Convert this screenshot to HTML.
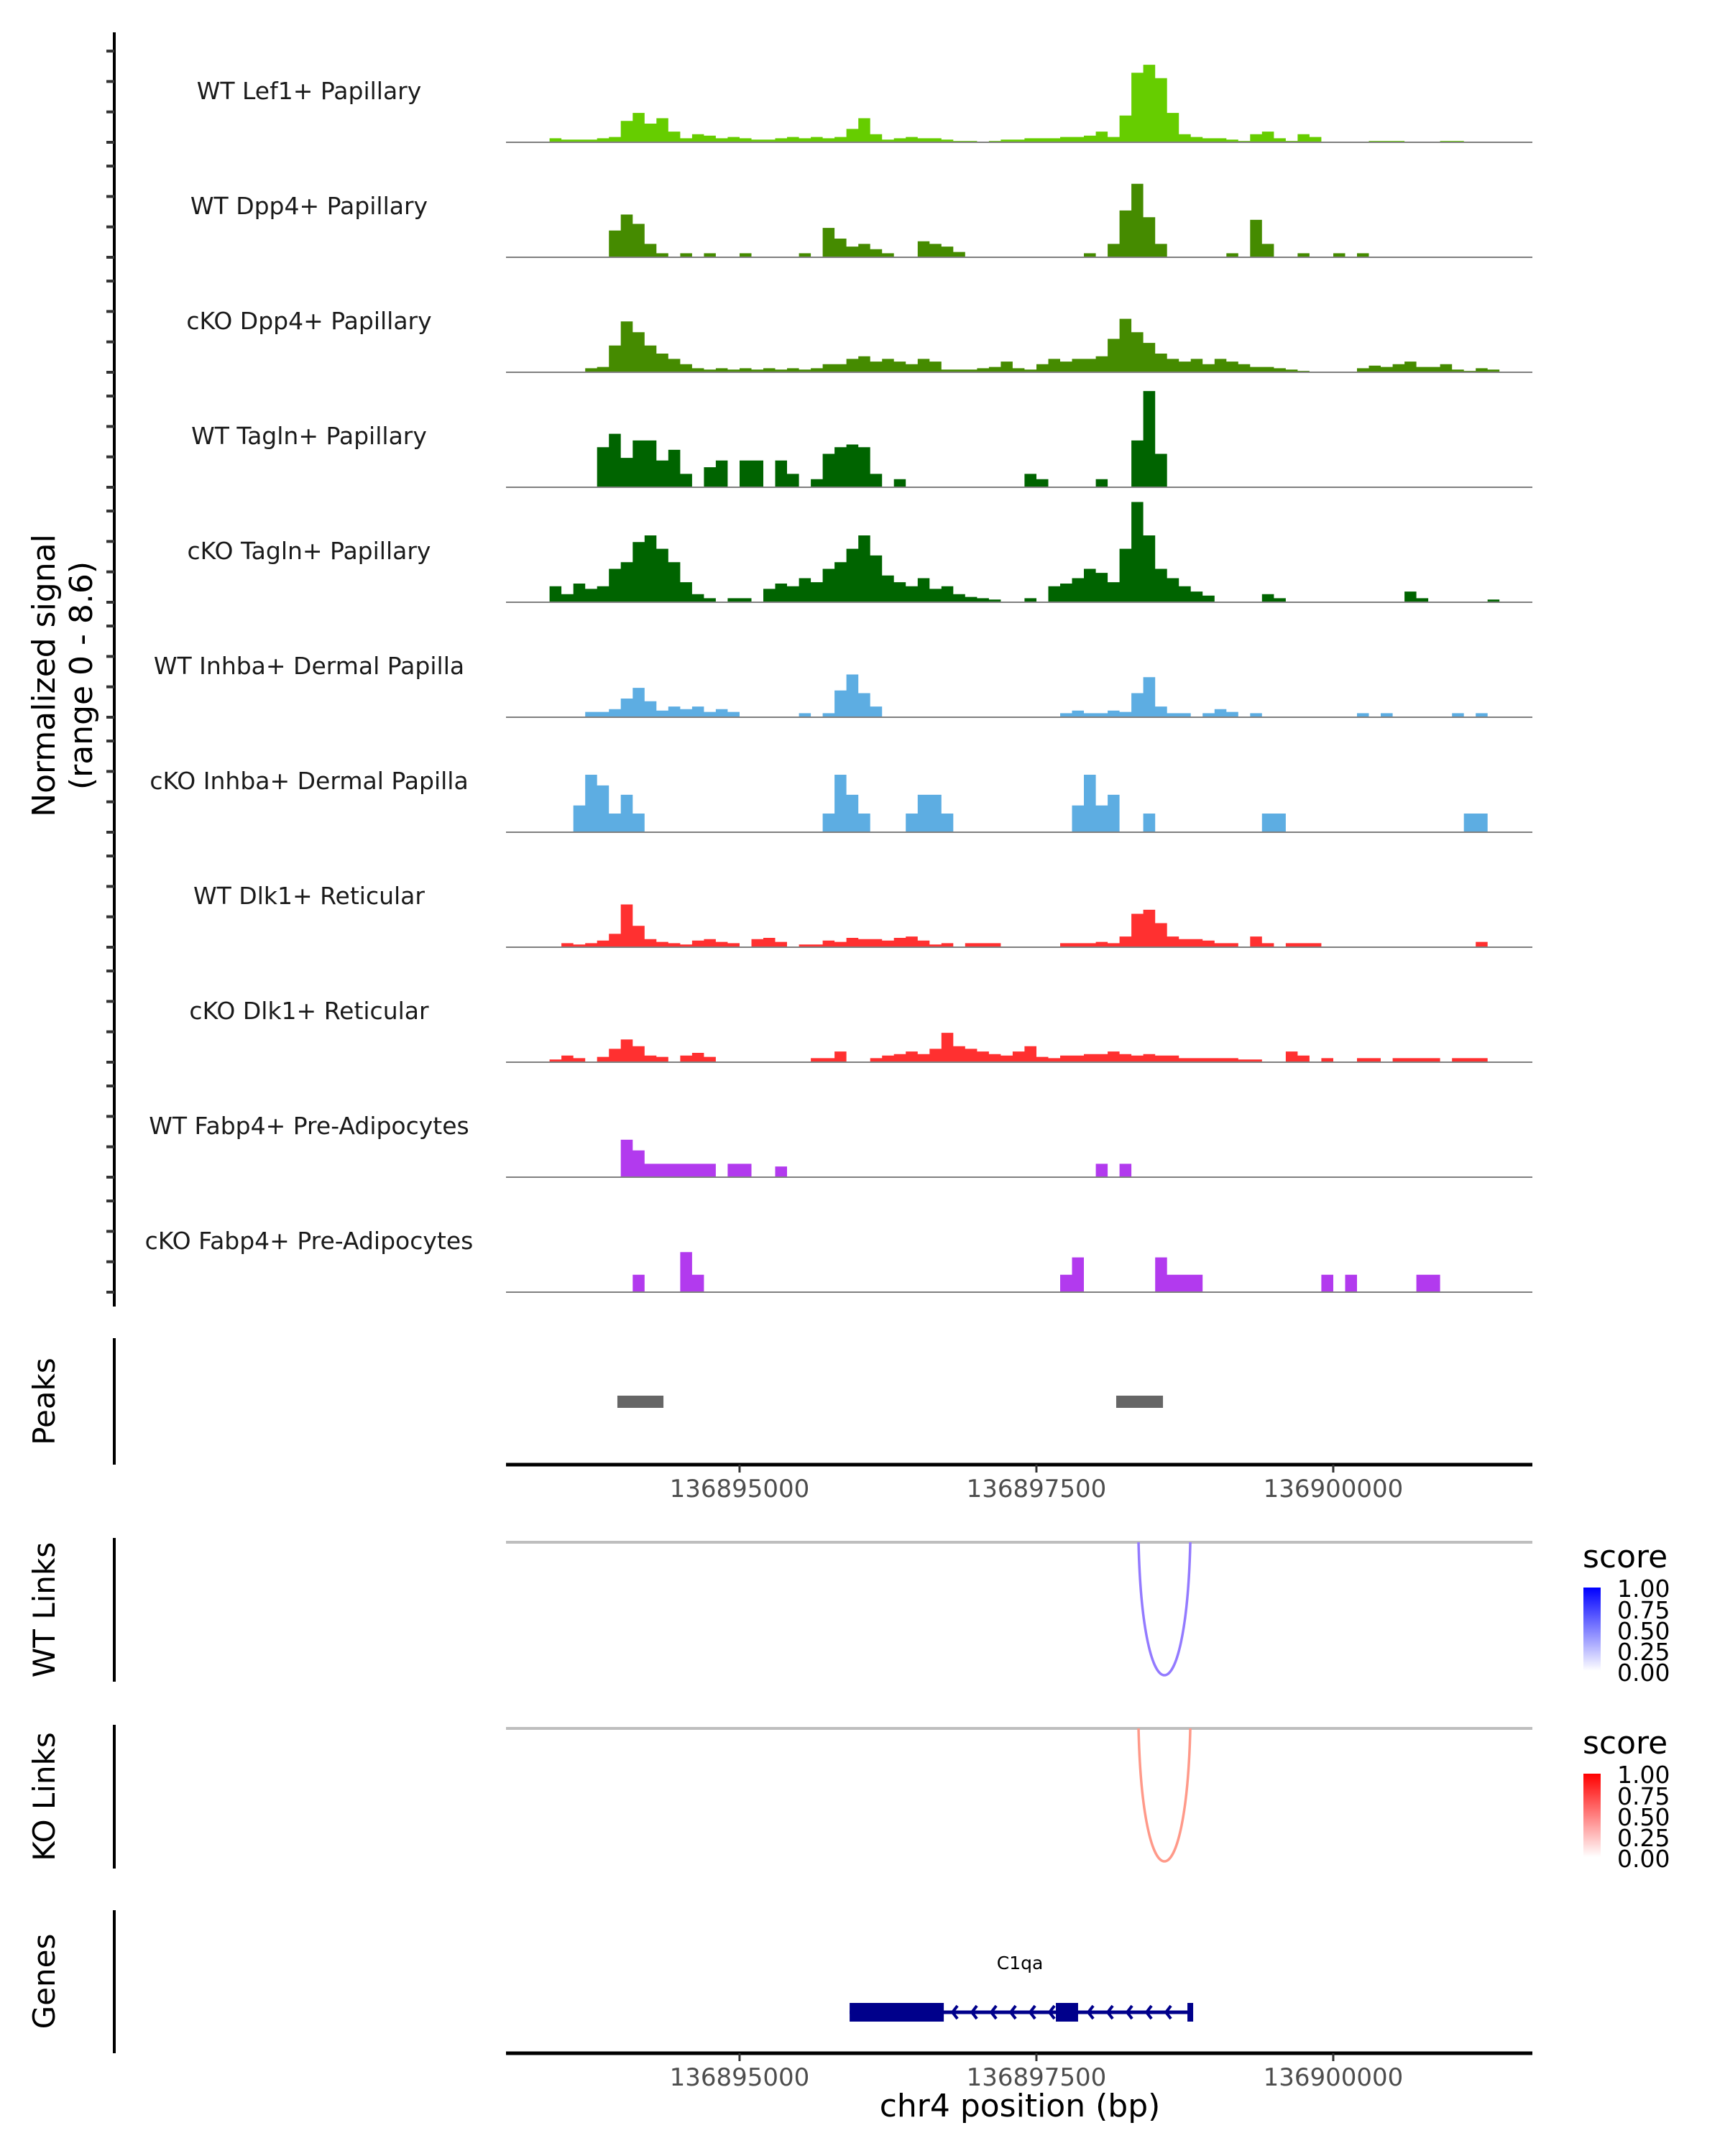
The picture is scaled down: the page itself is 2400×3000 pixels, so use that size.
<!DOCTYPE html>
<html><head><meta charset="utf-8"><style>
html,body{margin:0;padding:0;background:#fff}
svg{display:block}
text{font-family:"DejaVu Sans","Liberation Sans",sans-serif}
</style></head><body>
<svg id="chart" xmlns="http://www.w3.org/2000/svg" width="2400" height="3000" viewBox="0 0 2400 3000">
<defs>
<linearGradient id="gBlue" x1="0" y1="1" x2="0" y2="0"><stop offset="0" stop-color="#ffffff"/><stop offset="1" stop-color="#0000ff"/></linearGradient>
<linearGradient id="gRed" x1="0" y1="1" x2="0" y2="0"><stop offset="0" stop-color="#ffffff"/><stop offset="1" stop-color="#ff0000"/></linearGradient>
</defs>
<g id="tracks"></g>
<line x1="159" y1="45" x2="159" y2="1818" stroke="#000" stroke-width="4"/>
<g id="yticks"></g>
<text transform="translate(76,940) rotate(-90)" text-anchor="middle" font-size="44" fill="#000">Normalized signal</text>
<text transform="translate(128,940) rotate(-90)" text-anchor="middle" font-size="44" fill="#000">(range 0 - 8.6)</text>

<line x1="159" y1="1862" x2="159" y2="2038" stroke="#000" stroke-width="4"/>
<text transform="translate(76,1950) rotate(-90)" text-anchor="middle" font-size="42" fill="#000">Peaks</text>
<g id="peaks"></g>
<g id="xaxis1"></g>

<line x1="159" y1="2140" x2="159" y2="2340" stroke="#000" stroke-width="4"/>
<text transform="translate(76,2240) rotate(-90)" text-anchor="middle" font-size="42" fill="#000">WT Links</text>
<line x1="704" y1="2146" x2="2132" y2="2146" stroke="#bebebe" stroke-width="4"/>
<g id="wtlinks"></g>

<line x1="159" y1="2400" x2="159" y2="2600" stroke="#000" stroke-width="4"/>
<text transform="translate(76,2500) rotate(-90)" text-anchor="middle" font-size="42" fill="#000">KO Links</text>
<line x1="704" y1="2405" x2="2132" y2="2405" stroke="#bebebe" stroke-width="4"/>
<g id="kolinks"></g>

<g>
<text x="2202" y="2181" font-size="44" fill="#000">score</text>
<rect x="2203" y="2209" width="24" height="116" fill="url(#gBlue)"/>
<text x="2250" y="2222" font-size="33">1.00</text><text x="2250" y="2252" font-size="33">0.75</text><text x="2250" y="2281" font-size="33">0.50</text><text x="2250" y="2310" font-size="33">0.25</text><text x="2250" y="2339" font-size="33">0.00</text>
</g>
<g>
<text x="2202" y="2440" font-size="44" fill="#000">score</text>
<rect x="2203" y="2468" width="24" height="116" fill="url(#gRed)"/>
<text x="2250" y="2481" font-size="33">1.00</text><text x="2250" y="2511" font-size="33">0.75</text><text x="2250" y="2540" font-size="33">0.50</text><text x="2250" y="2569" font-size="33">0.25</text><text x="2250" y="2598" font-size="33">0.00</text>
</g>

<line x1="159" y1="2658" x2="159" y2="2857" stroke="#000" stroke-width="4"/>
<text transform="translate(76,2757) rotate(-90)" text-anchor="middle" font-size="42" fill="#000">Genes</text>
<g id="genes"></g>
<g id="xaxis2"></g>
<text x="1419" y="2945" text-anchor="middle" font-size="44" fill="#000">chr4 position (bp)</text>
</svg>
<script>
const NS='http://www.w3.org/2000/svg';
const trackLabels=['WT Lef1+ Papillary','WT Dpp4+ Papillary','cKO Dpp4+ Papillary','WT Tagln+ Papillary','cKO Tagln+ Papillary','WT Inhba+ Dermal Papilla','cKO Inhba+ Dermal Papilla','WT Dlk1+ Reticular','cKO Dlk1+ Reticular','WT Fabp4+ Pre-Adipocytes','cKO Fabp4+ Pre-Adipocytes'];
const trackColors=['#66cd00','#458b00','#458b00','#006400','#006400','#5dade2','#5dade2','#ff3030','#ff3030','#b23aee','#b23aee'];
const binStart=136893400;
const binSize=100;
const sigLef1=[.3,.2,.2,.2,.3,.4,1.6,2.2,1.4,1.8, .8,.3,.6,.5,.3,.4,.3,.2,.2,.3, .4,.3,.4,.3,.4,1.0,1.8,.6,.2,.3, .4,.3,.3,.2,.1,.1,0,.1,.2,.2, .3,.3,.3,.4,.4,.5,.8,.4,2.0,5.2, 5.8,4.8,2.2,.6,.4,.3,.3,.2,.1,.6, .8,.3,.1,.6,.4,0,0,0,0,.1, .1,.1,0,0,0,.1,.1,0,0,0];
const sigDpp4WT=[0,0,0,0,0,2.0,3.2,2.5,1.0,.3, 0,.3,0,.3,0,0,.3,0,0,0, 0,.3,0,2.2,1.4,.8,1.0,.6,.3,0, 0,1.2,1.0,.8,.4,0,0,0,0,0, 0,0,0,0,0,.3,0,1.0,3.5,5.5, 3.0,1.0,0,0,0,0,0,.3,0,2.8, 1.0,0,0,.3,0,0,.3,0,.3,0, 0,0,0,0,0,0,0,0,0,0];
const sigDpp4KO=[0,0,0,.3,.4,2.0,3.8,3.0,2.0,1.4, 1.0,.6,.3,.2,.3,.2,.3,.2,.3,.2, .3,.2,.3,.6,.6,1.0,1.2,.8,1.0,.8, .6,1.0,.8,.2,.2,.2,.3,.4,.8,.3, .2,.6,1.0,.8,1.0,1.0,1.2,2.5,4.0,3.0, 2.2,1.4,1.0,.8,1.0,.6,1.0,.8,.6,.4, .4,.3,.2,.1,0,0,0,0,.3,.5, .4,.6,.8,.4,.4,.6,.2,.1,.3,.2];
const sigTaglnWT=[0,0,0,0,3.0,4.0,2.2,3.5,3.5,2.0, 2.8,1.0,0,1.5,2.0,0,2.0,2.0,0,2.0, 1.0,0,.6,2.5,3.0,3.2,3.0,1.0,0,.6, 0,0,0,0,0,0,0,0,0,0, 1.0,.6,0,0,0,0,.6,0,0,3.5, 7.2,2.5,0,0,0,0,0,0,0,0, 0,0,0,0,0,0,0,0,0,0, 0,0,0,0,0,0,0,0,0,0];
const sigTaglnKO=[1.2,.6,1.4,1.0,1.2,2.5,3.0,4.5,5.0,4.0, 3.0,1.5,.6,.3,0,.3,.3,0,1.0,1.4, 1.2,1.8,1.5,2.5,3.0,4.0,5.0,3.5,2.0,1.5, 1.2,1.8,1.0,1.2,.6,.4,.3,.2,0,0, .3,0,1.2,1.4,1.8,2.5,2.2,1.5,4.0,7.5, 5.0,2.5,1.8,1.2,.8,.5,0,0,0,0, .6,.3,0,0,0,0,0,0,0,0, 0,0,.8,.3,0,0,0,0,0,.2];
const sigInhbaWT=[0,0,0,.4,.4,.6,1.4,2.2,1.2,.5, .8,.6,.8,.4,.6,.4,0,0,0,0, 0,.3,0,.3,2.0,3.2,1.8,.8,0,0, 0,0,0,0,0,0,0,0,0,0, 0,0,0,.3,.5,.3,.3,.5,.4,1.8, 3.0,.8,.3,.3,0,.3,.6,.4,0,.3, 0,0,0,0,0,0,0,0,.3,0, .3,0,0,0,0,0,.3,0,.3,0];
const sigInhbaKO=[0,0,2.0,4.3,3.5,1.4,2.8,1.4,0,0, 0,0,0,0,0,0,0,0,0,0, 0,0,0,1.4,4.3,2.8,1.4,0,0,0, 1.4,2.8,2.8,1.4,0,0,0,0,0,0, 0,0,0,0,2.0,4.3,2.0,2.8,0,0, 1.4,0,0,0,0,0,0,0,0,0, 1.4,1.4,0,0,0,0,0,0,0,0, 0,0,0,0,0,0,0,1.4,1.4,0];
const sigDlk1WT=[0,.3,.2,.3,.5,1.0,3.2,1.6,.6,.4, .3,.2,.5,.6,.4,.3,0,.6,.7,.4, 0,.2,.2,.5,.4,.7,.6,.6,.5,.7, .8,.5,.2,.3,0,.3,.3,.3,0,0, 0,0,0,.3,.3,.3,.4,.3,.8,2.5, 2.8,1.8,.8,.6,.6,.5,.3,.3,0,.8, .3,0,.3,.3,.3,0,0,0,0,0, 0,0,0,0,0,0,0,0,.4,0];
const sigDlk1KO=[.2,.5,.3,0,.4,1.0,1.7,1.2,.5,.4, 0,.5,.7,.4,0,0,0,0,0,0, 0,0,.3,.3,.8,0,0,.3,.5,.6, .8,.6,1.0,2.2,1.2,1.0,.8,.6,.5,.8, 1.2,.4,.3,.5,.5,.6,.6,.8,.6,.5, .6,.5,.5,.3,.3,.3,.3,.3,.2,.2, 0,0,.8,.5,0,.3,0,0,.3,.3, 0,.3,.3,.3,.3,0,.3,.3,.3,0];
const sigFabp4WT=[0,0,0,0,0,0,2.8,2.0,1.0,1.0, 1.0,1.0,1.0,1.0,0,1.0,1.0,0,0,.8, 0,0,0,0,0,0,0,0,0,0, 0,0,0,0,0,0,0,0,0,0, 0,0,0,0,0,0,1.0,0,1.0,0, 0,0,0,0,0,0,0,0,0,0, 0,0,0,0,0,0,0,0,0,0, 0,0,0,0,0,0,0,0,0,0];
const sigFabp4KO=[0,0,0,0,0,0,0,1.3,0,0, 0,3.0,1.3,0,0,0,0,0,0,0, 0,0,0,0,0,0,0,0,0,0, 0,0,0,0,0,0,0,0,0,0, 0,0,0,1.3,2.6,0,0,0,0,0, 0,2.6,1.3,1.3,1.3,0,0,0,0,0, 0,0,0,0,0,1.3,0,1.3,0,0, 0,0,0,1.3,1.3,0,0,0,0,0];
const allSignals=[sigLef1,sigDpp4WT,sigDpp4KO,sigTaglnWT,sigTaglnKO,sigInhbaWT,sigInhbaKO,sigDlk1WT,sigDlk1KO,sigFabp4WT,sigFabp4KO];
const peakStarts=[136893971,136898172];
const peakEnds=[136894359,136898566];
const xTicks=[136895000,136897500,136900000];
const xTickLabels=['136895000','136897500','136900000'];
const wtLinkStart=[136898360];const wtLinkEnd=[136898796];const wtLinkScore=[0.62];
const koLinkStart=[136898360];const koLinkEnd=[136898796];const koLinkScore=[0.55];
const exonStarts=[136895927,136897664];const exonEnds=[136896720,136897851];
const geneStart=136895927;const geneEnd=136898796;const geneName='C1qa';

const X0=704,X1=2132,D0=136893033,D1=136901677;
function xs(bp){return X0+(bp-D0)*(X1-X0)/(D1-D0);}
const PX_PER_UNIT=18.6;
function ys(v,base){return base-v*PX_PER_UNIT;}
function mk(tag,attrs,parent){const e=document.createElementNS(NS,tag);for(const k in attrs)e.setAttribute(k,attrs[k]);parent.appendChild(e);return e;}

const tracks=document.getElementById('tracks');
const yt=document.getElementById('yticks');
allSignals.forEach((sig,t)=>{
  const base=198+160*t;
  const g=mk('g',{},tracks);
  
  
  let d='';
  sig.forEach((v,i)=>{
    if(v<=0)return;
    const xa=xs(binStart+i*binSize),xb=xs(binStart+(i+1)*binSize),y=ys(v,base);
    d+='M'+xa.toFixed(1)+','+base+'V'+y.toFixed(1)+'H'+xb.toFixed(1)+'V'+base+'Z';
  });
  const p=mk('path',{d:d,fill:trackColors[t]},g);
  
  
  const bl=mk('line',{x1:X0,x2:X1,y1:base,y2:base,stroke:'#7f7f7f','stroke-width':2},g);
  
  
  const lb=mk('text',{x:430,y:base-60,'text-anchor':'middle','font-size':33,fill:'#1a1a1a'},g);
  lb.textContent=trackLabels[t];
  
  
  for(let k=0;k<4;k++){
    const y=base-42.3*k;
    const tk=mk('line',{x1:148,x2:159,y1:y,y2:y,stroke:'#333','stroke-width':4},yt);
    
    
  }
});

const pk=document.getElementById('peaks');
peakStarts.forEach((s,i)=>{
  const r=mk('rect',{x:xs(s),y:1942,width:xs(peakEnds[i])-xs(s),height:17,fill:'#666666'},pk);
  
  
});

function xAxis(id,y){
  const g=document.getElementById(id);
  mk('line',{x1:X0,x2:X1,y1:y,y2:y,stroke:'#000','stroke-width':5},g);
  xTicks.forEach((v,i)=>{
    const x=xs(v);
    const tk=mk('line',{x1:x,x2:x,y1:y,y2:y+11,stroke:'#333','stroke-width':3},g);
    
    
    const tl=mk('text',{x:x,y:y+45,'text-anchor':'middle','font-size':34,fill:'#4d4d4d'},g);
    tl.textContent=xTickLabels[i];
    
    
  });
}
xAxis('xaxis1',2038);
xAxis('xaxis2',2857);

function links(id,base,starts,ends,scores,rgb){
  const g=document.getElementById(id);
  starts.forEach((s,i)=>{
    const a=xs(s),b=xs(ends[i]),w=b-a;
    const depth=185/0.75;
    const c=scores[i];
    const col='rgb('+Math.round(255-(255-rgb[0])*c)+','+Math.round(255-(255-rgb[1])*c)+','+Math.round(255-(255-rgb[2])*c)+')';
    const p=mk('path',{d:'M'+a+','+base+' C'+(a+w*0.08)+','+(base+depth)+' '+(b-w*0.08)+','+(base+depth)+' '+b+','+base,fill:'none',stroke:col,'stroke-width':3.5},g);
    
    
  });
}
links('wtlinks',2146,wtLinkStart,wtLinkEnd,wtLinkScore,[80,40,255]);
links('kolinks',2405,koLinkStart,koLinkEnd,koLinkScore,[255,70,40]);

const gg=document.getElementById('genes');
const gy=2800;
const gl=mk('line',{x1:xs(geneStart),x2:xs(geneEnd),y1:gy,y2:gy,stroke:'#00008b','stroke-width':5},gg);


for(let x=xs(exonEnds[0])+12;x<xs(geneEnd)-10;x+=27){
  if(x>xs(exonStarts[1])-8&&x<xs(exonEnds[1])+12)continue;
  const ch=mk('path',{d:'M'+(x+7)+','+(gy-9)+' L'+x+','+gy+' L'+(x+7)+','+(gy+9),fill:'none',stroke:'#00008b','stroke-width':4},gg);
  
  
}
exonStarts.forEach((s,i)=>{
  const r=mk('rect',{x:xs(s),y:gy-13,width:xs(exonEnds[i])-xs(s),height:26,fill:'#00008b'},gg);
  
  
});
const et=mk('rect',{x:xs(geneEnd)-4,y:gy-13,width:8,height:26,fill:'#00008b'},gg);


const gn=mk('text',{x:(xs(geneStart)+xs(geneEnd))/2,y:2740,'text-anchor':'middle','font-size':25,fill:'#000'},gg);
gn.textContent=geneName;


</script>
</body></html>
